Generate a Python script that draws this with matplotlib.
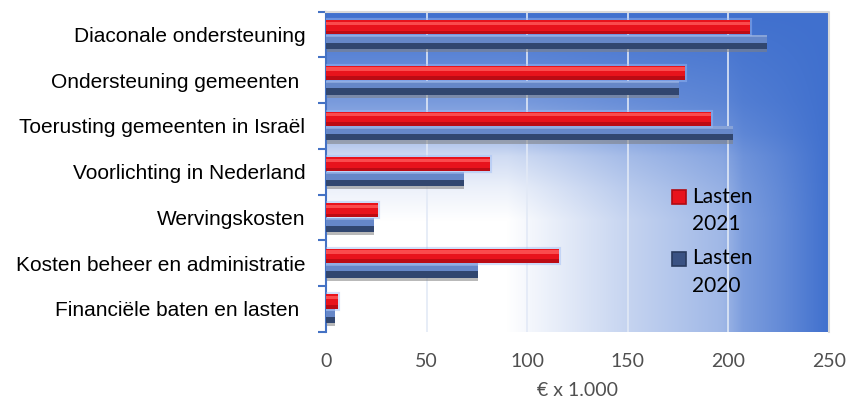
import numpy as np
import matplotlib
matplotlib.use("Agg")
import matplotlib.pyplot as plt
import matplotlib.patheffects as pe
from matplotlib.patches import Rectangle

# data (k EUR)
categories = [
    "Diaconale ondersteuning",
    "Ondersteuning gemeenten ",
    "Toerusting gemeenten in Israël",
    "Voorlichting in Nederland",
    "Wervingskosten",
    "Kosten beheer en administratie",
    "Financiële baten en lasten ",
]
lasten_2021 = [210.5, 178.5, 191.5, 81.5, 26, 116, 6]
lasten_2020 = [219, 175.5, 202.5, 68.5, 24, 75.5, 4.5]
series_labels = ["Lasten\n2021", "Lasten\n2020"]
xticks = [0, 50, 100, 150, 200, 250]

BLUE = np.array([64, 112, 206]) / 255.0
RED = "#E8131C"
RED_HI = "#FF5A5A"
RED_LO = "#B10A12"
NAVY_HI = "#6687C8"
NAVY_LO = "#31466F"

fig = plt.figure(figsize=(8.64, 4.05), dpi=100)
ax = fig.add_axes([326 / 864, 1 - 331.7 / 405, (829 - 326) / 864, (331.7 - 11.7) / 405])

# background: white lower-left, blue towards the top and right edge
gx, gy = np.meshgrid(np.linspace(0, 1, 500), np.linspace(0, 1, 320))
tx = np.interp(gx, [0, 0.36, 0.4, 0.6, 0.79, 0.83, 0.9, 1.0],
               [0, 0, 0.05, 0.3, 0.5, 0.68, 0.8, 1.0])
ty = np.interp(gy, [0, 0.35, 0.45, 0.55, 0.62, 0.72, 0.86, 1.0],
               [0, 0, 0.1, 0.25, 0.5, 0.7, 0.85, 1.0])
t = 1 - (1 - tx) * (1 - ty)
img = (1 - t[..., None]) * np.ones(3) + t[..., None] * BLUE
ax.imshow(img, extent=[0, 1, 0, 1], transform=ax.transAxes, origin="lower",
          aspect="auto", zorder=0, interpolation="bilinear")

n = len(categories)
y = np.arange(n)
h = 0.31
off = 0.16

# gridlines
for xv in xticks[1:-1]:
    ax.axvline(xv, color="#E2E9F6", lw=1.3, zorder=1, alpha=0.9)

# blue bars (2020): shadow, dark lower part, light upper part
ax.barh(y + off + 0.07, lasten_2020, height=h, color="#808080", alpha=0.55, zorder=2)
ax.barh(y + off, lasten_2020, height=h, color=NAVY_LO, zorder=3)
ax.barh(y + off - h * 0.22, lasten_2020, height=h * 0.56, color=NAVY_HI, zorder=3)
ax.barh(y + off - h / 2 + 0.025, lasten_2020, height=0.05, color="#87A3D8", zorder=3)

# red bars (2021) with a soft blue glow
glow = [pe.Stroke(linewidth=3, foreground="#9DBBF5", alpha=0.45), pe.Normal()]
ax.barh(y - off, lasten_2021, height=h, color=RED, zorder=4, path_effects=glow)
ax.barh(y - off - h / 2 + 0.07, lasten_2021, height=0.07, color=RED_HI, zorder=4, alpha=0.8)
ax.barh(y - off + h / 2 - 0.04, lasten_2021, height=0.08, color=RED_LO, zorder=4, alpha=0.8)

ax.set_xlim(0, 250)
ax.set_ylim(n - 0.5, -0.5)

# category separators on the left spine
ax.set_yticks(np.arange(n + 1) - 0.5)
ax.set_yticklabels([])
ax.set_yticks(y, minor=True)
ax.set_yticklabels(categories, minor=True, fontsize=15, family="Liberation Sans", color="black")
ax.tick_params(axis="y", which="major", direction="out", length=6, width=1.5, color="#4472C4")
ax.tick_params(axis="y", which="minor", length=0, pad=15)

ax.set_xticks(xticks)
ax.set_xticklabels([str(v) for v in xticks], fontsize=14, family="Lato", color="#505050")
ax.tick_params(axis="x", length=0, pad=15)
ax.set_xlabel("€ x 1.000", fontsize=14, family="Lato", color="#505050", labelpad=9)

for s in ["top", "right", "bottom"]:
    ax.spines[s].set_visible(False)
ax.spines["left"].set_color("#4472C4")
ax.spines["left"].set_linewidth(1.5)
ax.plot([0, 1, 1], [1, 1, 0], transform=ax.transAxes, color="#D9D9D9", lw=1.5, zorder=5, clip_on=False)

# legend drawn by hand so the swatch lines up with the first text line
leg_colors = [(RED, RED_LO), ("#3A5283", "#283A5E")]
leg_y = [197, 258.5]
for (c1, c2), ly, lab in zip(leg_colors, leg_y, series_labels):
    fx = 672 / 864
    fy = 1 - (ly + 7) / 405
    fig.patches.append(Rectangle((fx, fy), 14 / 864, 14 / 405, transform=fig.transFigure,
                                 facecolor=c1, edgecolor=c2, lw=1.2))
    fig.text(692 / 864, 1 - (ly - 10) / 405, lab, fontsize=15, family="Lato",
             color="black", va="top", ha="left", linespacing=1.45)

fig.savefig("out.png", dpi=100)
